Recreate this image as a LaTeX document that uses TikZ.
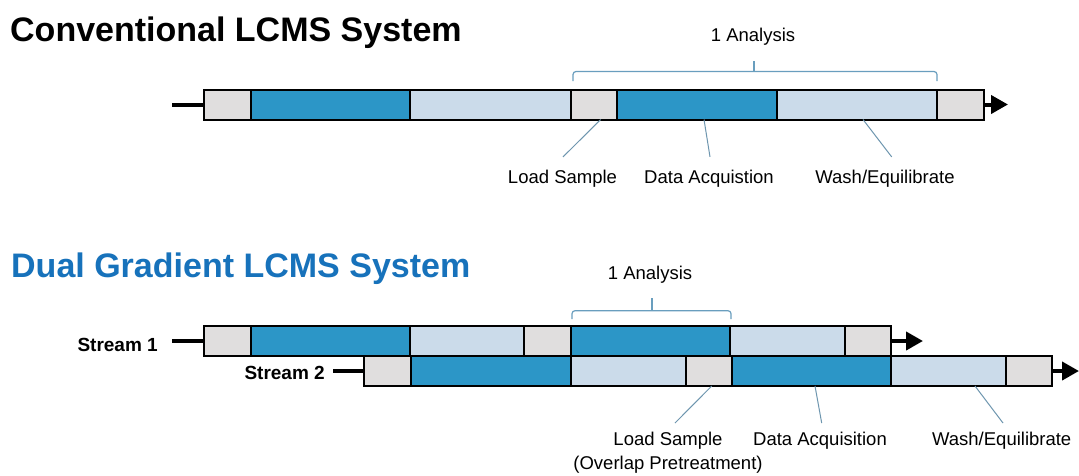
\documentclass[tikz,border=0pt]{standalone}
\usepackage{fontspec}
\setmainfont{Liberation Sans}
\usetikzlibrary{arrows.meta}
\definecolor{segdark}{RGB}{44,150,199}
\definecolor{seglight}{RGB}{203,219,234}
\definecolor{seggray}{RGB}{224,222,222}
\definecolor{titleblue}{RGB}{23,114,187}
\definecolor{bracecol}{RGB}{105,158,190}
\definecolor{leadcol}{RGB}{110,150,175}
\begin{document}
\begin{tikzpicture}[x=1pt,y=-1pt,
 seg/.style={draw=black, line width=2pt, rectangle, inner sep=0pt, outer sep=0pt, minimum height=30pt},
 gseg/.style={seg, fill=seggray},
 dseg/.style={seg, fill=segdark},
 lseg/.style={seg, fill=seglight},
 flow/.style={line width=4pt, -{Triangle[length=17pt,width=18pt]}},
 stub/.style={line width=4pt},
 brace/.style={draw=bracecol, line width=1.2pt, rounded corners=3pt},
 lead/.style={draw=leadcol, line width=1pt},
 lbl/.style={font=\fontsize{18.5}{22}\selectfont, inner sep=0pt},
 title/.style={font=\fontsize{34}{40}\selectfont\bfseries, anchor=base west, inner sep=0pt},
 stream/.style={font=\fontsize{19}{22}\selectfont\bfseries, anchor=base east, inner sep=0pt}
]
\useasboundingbox (0,0) rectangle (1079,475);
\fill[white] (0,0) rectangle (1079,475);

% titles
\node[title] (ttl1) at (10,41.7) {Conventional LCMS System};
\node[title, text=titleblue] (ttl2) at (11,277.3) {Dual Gradient LCMS System};

% conventional bar
\node[gseg, minimum width=47pt]  (t1) at (227.5,104.5) {};
\node[dseg, minimum width=159pt] (t2) at (330.5,104.5) {};
\node[lseg, minimum width=161pt] (t3) at (490.5,104.5) {};
\node[gseg, minimum width=46pt]  (t4) at (594,104.5) {};
\node[dseg, minimum width=160pt] (t5) at (697,104.5) {};
\node[lseg, minimum width=160pt] (t6) at (857,104.5) {};
\node[gseg, minimum width=47pt]  (t7) at (960.5,104.5) {};
\coordinate (tin) at (172,104.5);
\coordinate (tout) at (1008,104.5);
\draw[stub] (tin) -- (t1.west);
\draw[flow] (t7.east) -- (tout);

% brace top
\draw[brace] (573,81) -- (573,71.5) -- (937,71.5) -- (937,81);
\draw[brace] (754,71.5) -- (754,61);
\node[lbl] (an1) at (753,37) {1 Analysis};

% top labels
\node[lbl, anchor=base] (tl1) at (562.5,183.5) {Load Sample};
\node[lbl, anchor=base] (tl2) at (709,183.5) {Data Acquistion};
\node[lbl, anchor=base] (tl3) at (885,183.5) {Wash/Equilibrate};
\draw[lead] ([xshift=6.7pt]t4.south) -- ([xshift=0.5pt,yshift=13pt]tl1.north);
\draw[lead] ([xshift=7pt]t5.south) -- ([xshift=1pt,yshift=13pt]tl2.north);
\draw[lead] ([xshift=6pt]t6.south) -- ([xshift=6.7pt,yshift=13pt]tl3.north);

% stream 1
\node[gseg, minimum width=47pt]  (a1) at (227.5,341) {};
\node[dseg, minimum width=159pt] (a2) at (330.5,341) {};
\node[lseg, minimum width=114pt] (a3) at (467,341) {};
\node[gseg, minimum width=47pt]  (a4) at (547.5,341) {};
\node[dseg, minimum width=159pt] (a5) at (650.5,341) {};
\node[lseg, minimum width=115pt] (a6) at (787.5,341) {};
\node[gseg, minimum width=46pt]  (a7) at (868,341) {};
\coordinate (ain) at (172,341);
\coordinate (aout) at (923,341);
\draw[stub] (ain) -- (a1.west);
\draw[flow] (a7.east) -- (aout);
\node[stream] (s1) at (158,351) {Stream 1};

% stream 2
\node[gseg, minimum width=47pt]  (b1) at (387.5,371) {};
\node[dseg, minimum width=160pt] (b2) at (491,371) {};
\node[lseg, minimum width=115pt] (b3) at (628.5,371) {};
\node[gseg, minimum width=46pt]  (b4) at (709,371) {};
\node[dseg, minimum width=159pt] (b5) at (811.5,371) {};
\node[lseg, minimum width=115pt] (b6) at (948.5,371) {};
\node[gseg, minimum width=46pt]  (b7) at (1029,371) {};
\coordinate (bin) at (333,371);
\coordinate (bout) at (1079,371);
\draw[stub] (bin) -- (b1.west);
\draw[flow] (b7.east) -- (bout);
\node[stream] (s2) at (325,379) {Stream 2};

% brace bottom
\draw[brace] (572,319) -- (572,310.7) -- (731,310.7) -- (731,319);
\draw[brace] (652,310.7) -- (652,298);
\node[lbl] (an2) at (650,275) {1 Analysis};

% bottom labels
\node[lbl, anchor=north, align=center] (bl1) at (668,431.5) {Load Sample\\[2pt](Overlap Pretreatment)};
\node[lbl, anchor=north] (bl2) at (820,431.5) {Data Acquisition};
\node[lbl, anchor=north] (bl3) at (1001.7,431.5) {Wash/Equilibrate};
\draw[lead] ([xshift=2.7pt]b4.south) -- ([xshift=7pt,yshift=8.5pt]bl1.north);
\draw[lead] ([xshift=3.5pt]b5.south) -- ([xshift=1.7pt,yshift=8.5pt]bl2.north);
\draw[lead] ([xshift=26.5pt]b6.south) -- ([xshift=1.3pt,yshift=8.5pt]bl3.north);
\end{tikzpicture}
\end{document}
